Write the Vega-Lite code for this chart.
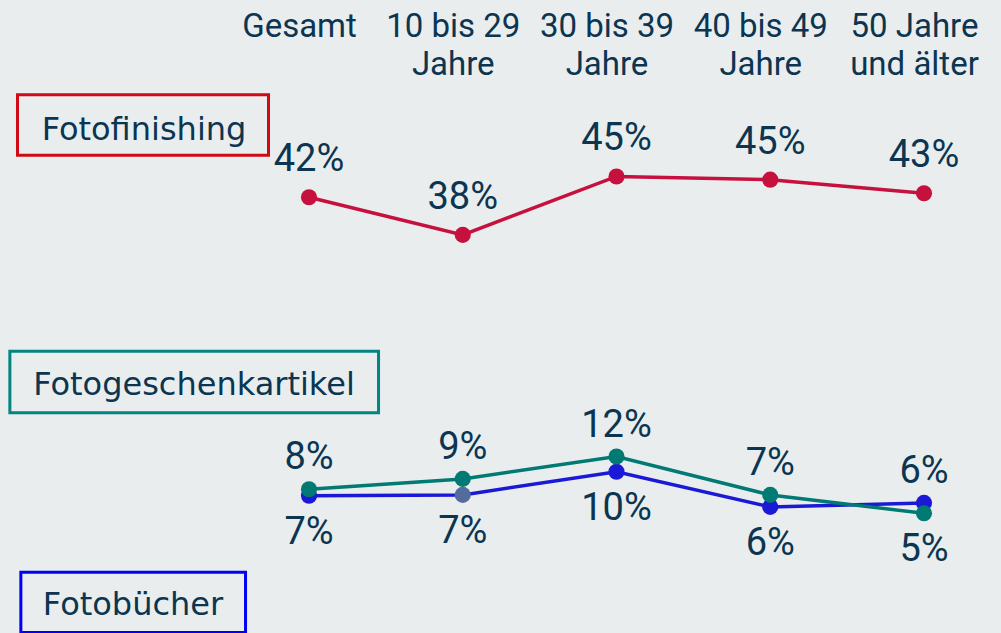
{
  "$schema": "https://vega.github.io/schema/vega-lite/v6.json",
  "width": 922.5,
  "height": 543,
  "autosize": "none",
  "padding": {"left": 1.5, "top": 90, "right": 77, "bottom": 0},
  "background": "#e9edee",
  "config": {"view": {"stroke": null}},
  "data": {
    "values": [
      {"Altersgruppe": "Gesamt", "Serie": "Fotofinishing", "Anteil": 0.424},
      {"Altersgruppe": "10 bis 29 Jahre", "Serie": "Fotofinishing", "Anteil": 0.377},
      {"Altersgruppe": "30 bis 39 Jahre", "Serie": "Fotofinishing", "Anteil": 0.450},
      {"Altersgruppe": "40 bis 49 Jahre", "Serie": "Fotofinishing", "Anteil": 0.446},
      {"Altersgruppe": "50 Jahre und älter", "Serie": "Fotofinishing", "Anteil": 0.429},
      {"Altersgruppe": "Gesamt", "Serie": "Fotogeschenkartikel", "Anteil": 0.079},
      {"Altersgruppe": "10 bis 29 Jahre", "Serie": "Fotogeschenkartikel", "Anteil": 0.092},
      {"Altersgruppe": "30 bis 39 Jahre", "Serie": "Fotogeschenkartikel", "Anteil": 0.120},
      {"Altersgruppe": "40 bis 49 Jahre", "Serie": "Fotogeschenkartikel", "Anteil": 0.072},
      {"Altersgruppe": "50 Jahre und älter", "Serie": "Fotogeschenkartikel", "Anteil": 0.049},
      {"Altersgruppe": "Gesamt", "Serie": "Fotobücher", "Anteil": 0.071},
      {"Altersgruppe": "10 bis 29 Jahre", "Serie": "Fotobücher", "Anteil": 0.072},
      {"Altersgruppe": "30 bis 39 Jahre", "Serie": "Fotobücher", "Anteil": 0.101},
      {"Altersgruppe": "40 bis 49 Jahre", "Serie": "Fotobücher", "Anteil": 0.057},
      {"Altersgruppe": "50 Jahre und älter", "Serie": "Fotobücher", "Anteil": 0.062}
    ]
  },
  "encoding": {
    "x": {
      "field": "Altersgruppe",
      "type": "ordinal",
      "sort": ["Gesamt", "10 bis 29 Jahre", "30 bis 39 Jahre", "40 bis 49 Jahre", "50 Jahre und älter"],
      "scale": {"type": "point", "padding": 1, "align": 1},
      "axis": {
        "orient": "top",
        "title": null,
        "domain": false,
        "ticks": false,
        "labelAngle": 0,
        "labelAlign": "center",
        "labelBaseline": "bottom",
        "labelOffset": -10,
        "labelPadding": 46.5,
        "labelFont": "Roboto",
        "labelFontSize": 33,
        "labelLineHeight": 37.5,
        "labelColor": "#0b3550",
        "labelOverlap": false,
        "labelFlush": false,
        "labelLimit": 300,
        "labelExpr": "datum.value == 'Gesamt' ? ['Gesamt', ''] : datum.value == '50 Jahre und älter' ? ['50 Jahre', 'und älter'] : [slice(datum.value, 0, 9), 'Jahre']"
      }
    }
  },
  "resolve": {"scale": {"y": "independent"}},
  "layer": [
    {
      "transform": [{"filter": "datum.Serie == 'Fotofinishing'"}],
      "encoding": {
        "y": {"field": "Anteil", "type": "quantitative", "scale": {"domain": [-0.1206, 0.5581], "zero": false, "nice": false}, "axis": null}
      },
      "layer": [
        {"mark": {"type": "line", "color": "#c6103e", "strokeWidth": 3.5}},
        {"mark": {"type": "circle", "color": "#c6103e", "size": 260, "opacity": 1}},
        {
          "mark": {"type": "text", "font": "Roboto", "fontSize": 38, "color": "#0b3550", "align": "center", "baseline": "alphabetic", "dy": -26},
          "encoding": {"text": {"field": "Anteil", "type": "quantitative", "format": ".0%"}}
        },
        {
          "transform": [{"filter": "datum.Altersgruppe == 'Gesamt'"}],
          "mark": {"type": "point", "shape": "M-4.156,-1L4.156,-1L4.156,1L-4.156,1Z", "size": 3648, "filled": false, "stroke": "#d00a14", "strokeWidth": 3, "opacity": 1, "xOffset": -166, "yOffset": -72.3}
        },
        {
          "transform": [{"filter": "datum.Altersgruppe == 'Gesamt'"}],
          "mark": {"type": "text", "font": "DejaVu Sans", "fontSize": 32, "color": "#0b3550", "align": "center", "baseline": "alphabetic", "dx": -165, "dy": -57.3},
          "encoding": {"text": {"field": "Serie"}}
        }
      ]
    },
    {
      "transform": [
        {"filter": "datum.Serie != 'Fotofinishing'"},
        {"joinaggregate": [{"op": "max", "field": "Anteil", "as": "Hoechstwert"}], "groupby": ["Altersgruppe"]}
      ],
      "encoding": {
        "y": {"field": "Anteil", "type": "quantitative", "scale": {"domain": [-0.1006, 0.5781], "zero": false, "nice": false}, "axis": null}
      },
      "layer": [
        {
          "transform": [{"filter": "datum.Serie == 'Fotobücher'"}],
          "mark": {"type": "line", "color": "#1a1ad6", "strokeWidth": 3.5}
        },
        {
          "transform": [{"filter": "datum.Serie == 'Fotobücher'"}],
          "mark": {"type": "circle", "size": 260, "opacity": 1},
          "encoding": {
            "color": {
              "condition": {"test": "datum.Altersgruppe == '10 bis 29 Jahre'", "value": "#546b9b"},
              "value": "#1a1ad6"
            }
          }
        },
        {
          "transform": [{"filter": "datum.Serie == 'Fotogeschenkartikel'"}],
          "mark": {"type": "line", "color": "#007a72", "strokeWidth": 3.5}
        },
        {
          "transform": [{"filter": "datum.Serie == 'Fotogeschenkartikel'"}],
          "mark": {"type": "circle", "color": "#007a72", "size": 260, "opacity": 1}
        },
        {
          "transform": [{"filter": "datum.Anteil == datum.Hoechstwert"}],
          "mark": {"type": "text", "font": "Roboto", "fontSize": 38, "color": "#0b3550", "align": "center", "baseline": "alphabetic", "dy": -20},
          "encoding": {"text": {"field": "Anteil", "type": "quantitative", "format": ".0%"}}
        },
        {
          "transform": [{"filter": "datum.Anteil < datum.Hoechstwert"}],
          "mark": {"type": "text", "font": "Roboto", "fontSize": 38, "color": "#0b3550", "align": "center", "baseline": "alphabetic", "dy": 48},
          "encoding": {"text": {"field": "Anteil", "type": "quantitative", "format": ".0%"}}
        },
        {
          "transform": [{"filter": "datum.Altersgruppe == 'Gesamt' && datum.Serie == 'Fotogeschenkartikel'"}],
          "mark": {"type": "point", "shape": "M-5.976,-1L5.976,-1L5.976,1L-5.976,1Z", "size": 3806, "filled": false, "stroke": "#008580", "strokeWidth": 3, "opacity": 1, "xOffset": -114.8, "yOffset": -107.3}
        },
        {
          "transform": [{"filter": "datum.Altersgruppe == 'Gesamt' && datum.Serie == 'Fotogeschenkartikel'"}],
          "mark": {"type": "text", "font": "DejaVu Sans", "fontSize": 32, "color": "#0b3550", "align": "center", "baseline": "alphabetic", "dx": -115, "dy": -94},
          "encoding": {"text": {"field": "Serie"}}
        },
        {
          "transform": [{"filter": "datum.Altersgruppe == 'Gesamt' && datum.Serie == 'Fotobücher'"}],
          "mark": {"type": "point", "shape": "M-3.72,-1L3.72,-1L3.72,1L-3.72,1Z", "size": 3648, "filled": false, "stroke": "#0000f5", "strokeWidth": 3, "opacity": 1, "xOffset": -175.8, "yOffset": 106.7}
        },
        {
          "transform": [{"filter": "datum.Altersgruppe == 'Gesamt' && datum.Serie == 'Fotobücher'"}],
          "mark": {"type": "text", "font": "DejaVu Sans", "fontSize": 32, "color": "#0b3550", "align": "center", "baseline": "alphabetic", "dx": -176, "dy": 119},
          "encoding": {"text": {"field": "Serie"}}
        }
      ]
    }
  ]
}
